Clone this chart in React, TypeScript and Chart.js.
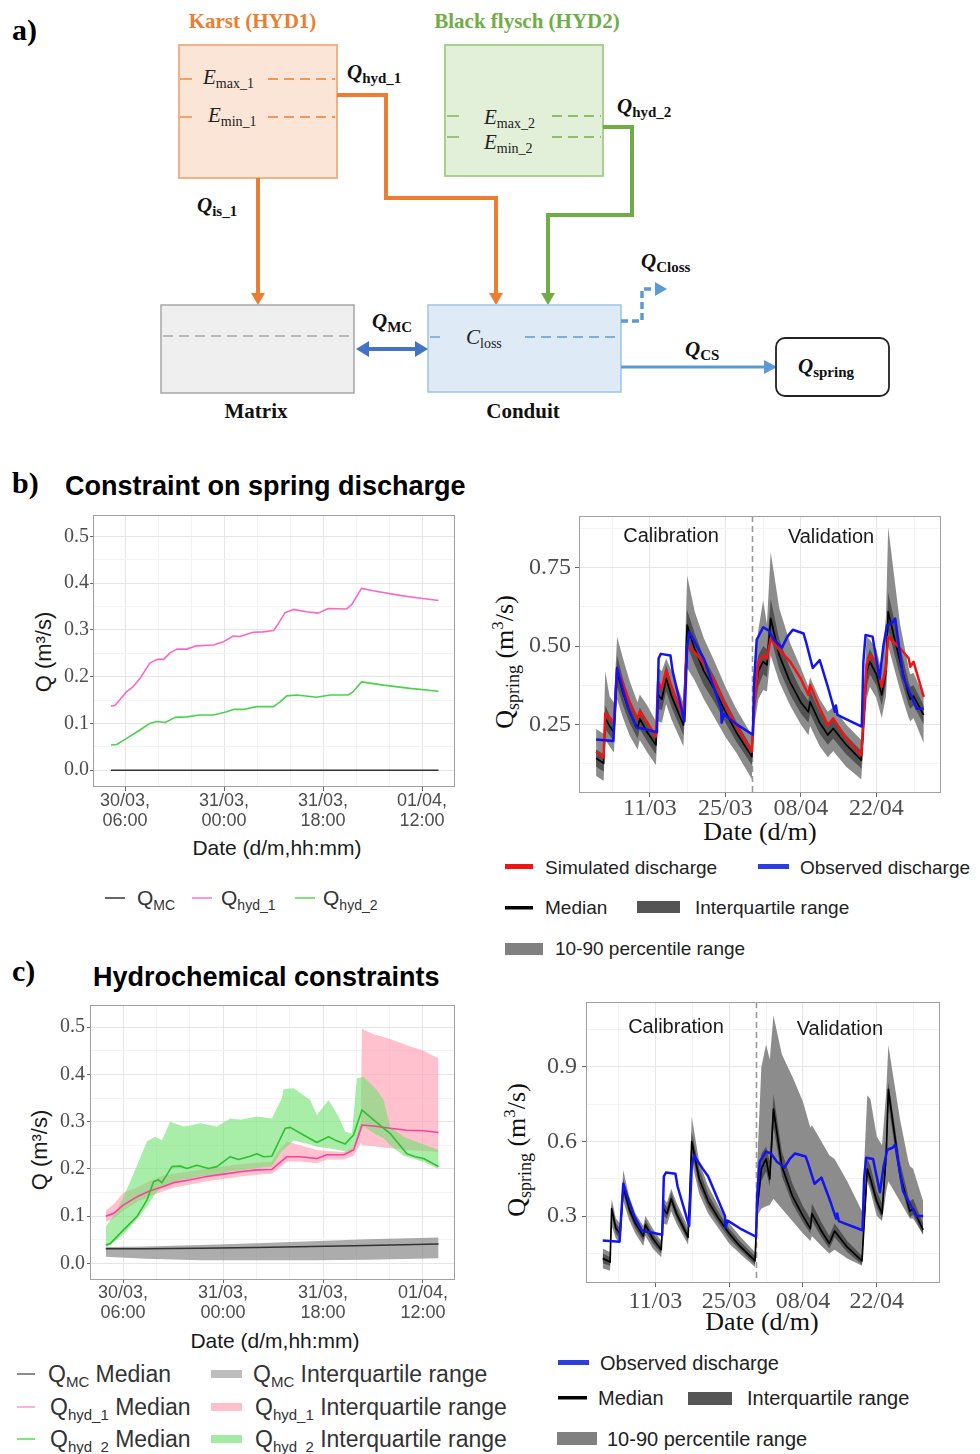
import React, { useEffect, useRef } from 'react';
import { Chart, registerables } from 'chart.js';

Chart.register(...registerables);

const SANS = '"Liberation Sans", Arial, sans-serif';
const SERIF = '"Liberation Serif", "Times New Roman", serif';

// ---------- b) left: component discharges (hours after 30/03 00:00) ----------
const hyd1Hours = [3.45, 4.2, 6.3, 7.5, 8.7, 10.5, 11.8, 13.0, 14.2, 15.4, 17.2, 19.0, 22.1, 23.9, 25.7, 26.9, 29.3, 31.1, 33.0, 33.9, 35.1, 36.6, 39.0, 41.1, 43.0, 46.3, 47.2, 49.0, 51.1, 56.0, 58.4, 63.0];
const hyd1Q = [0.137, 0.139, 0.168, 0.179, 0.196, 0.229, 0.237, 0.237, 0.251, 0.259, 0.259, 0.266, 0.268, 0.275, 0.287, 0.286, 0.295, 0.296, 0.299, 0.314, 0.337, 0.344, 0.339, 0.336, 0.346, 0.345, 0.354, 0.389, 0.384, 0.374, 0.370, 0.363];
const hyd2Hours = [3.45, 4.5, 6.3, 8.7, 10.5, 11.8, 13.3, 15.1, 17.2, 19.6, 22.1, 24.5, 25.7, 27.5, 29.9, 33.0, 34.2, 35.4, 37.2, 40.8, 43.3, 46.6, 47.5, 49.0, 53.0, 57.8, 63.0];
const hyd2Q = [0.054, 0.055, 0.068, 0.086, 0.100, 0.104, 0.102, 0.113, 0.114, 0.118, 0.118, 0.125, 0.130, 0.130, 0.136, 0.136, 0.146, 0.159, 0.161, 0.156, 0.161, 0.161, 0.168, 0.189, 0.182, 0.175, 0.169];
const mcHoursB = [3.45, 63.0];
const mcQB = [0, 0];

// ---------- c) left: medians and interquartile ranges ----------
const mcHours = [2.9, 10, 20, 30, 40, 50, 62.8];
const mcMed = [0.031, 0.031, 0.032, 0.034, 0.036, 0.038, 0.041];
const mcLow = [0.014, 0.010, 0.007, 0.007, 0.007, 0.008, 0.011];
const mcHigh = [0.035, 0.036, 0.039, 0.043, 0.047, 0.051, 0.055];

const h1Hours = [2.9, 4.3, 6.1, 8.5, 10.9, 13.0, 15.1, 18.1, 21.1, 24.1, 27.1, 30.1, 32.8, 33.7, 35.5, 37.9, 40.9, 42.7, 45.7, 47.5, 48.8, 49.0, 51.1, 54.1, 57.1, 60.1, 62.8];
const h1Med = [0.100, 0.106, 0.124, 0.141, 0.154, 0.162, 0.171, 0.177, 0.184, 0.189, 0.194, 0.198, 0.199, 0.208, 0.226, 0.226, 0.222, 0.230, 0.230, 0.240, 0.285, 0.293, 0.291, 0.286, 0.282, 0.281, 0.277];
const h1Low = [0.088, 0.095, 0.112, 0.130, 0.143, 0.152, 0.160, 0.167, 0.174, 0.179, 0.184, 0.188, 0.190, 0.198, 0.216, 0.216, 0.212, 0.220, 0.220, 0.228, 0.255, 0.250, 0.248, 0.244, 0.240, 0.238, 0.236];
const h1High = [0.112, 0.125, 0.150, 0.160, 0.175, 0.185, 0.190, 0.195, 0.200, 0.205, 0.210, 0.213, 0.215, 0.235, 0.258, 0.250, 0.240, 0.238, 0.236, 0.245, 0.300, 0.497, 0.485, 0.475, 0.462, 0.450, 0.434];

const h2Hours = [2.9, 3.7, 6.1, 8.5, 10.3, 11.5, 12.4, 13.0, 14.8, 16.3, 17.5, 19.3, 21.4, 22.9, 25.3, 26.8, 28.9, 30.1, 31.3, 32.8, 35.2, 36.1, 38.5, 40.9, 43.0, 44.2, 46.0, 47.5, 49.0, 51.1, 54.1, 57.1, 58.6, 60.1, 62.8];
const h2Med = [0.039, 0.042, 0.071, 0.099, 0.134, 0.173, 0.177, 0.171, 0.205, 0.206, 0.201, 0.208, 0.201, 0.205, 0.226, 0.220, 0.227, 0.232, 0.226, 0.227, 0.286, 0.288, 0.272, 0.256, 0.268, 0.261, 0.253, 0.272, 0.325, 0.304, 0.275, 0.232, 0.226, 0.222, 0.205];
const h2BandHours = [2.9, 4.8, 6.1, 7.9, 10.3, 11.8, 13.0, 14.5, 16.9, 18.1, 19.9, 22.9, 25.3, 27.1, 30.1, 32.8, 34.6, 34.9, 36.7, 39.7, 40.9, 43.0, 44.8, 46.0, 47.2, 48.1, 49.3, 51.7, 52.9, 54.1, 56.5, 60.1, 62.8];
const h2Low = [0.032, 0.049, 0.062, 0.085, 0.12, 0.148, 0.16, 0.17, 0.178, 0.18, 0.184, 0.188, 0.195, 0.197, 0.202, 0.205, 0.238, 0.24, 0.26, 0.252, 0.247, 0.244, 0.24, 0.237, 0.238, 0.26, 0.29, 0.272, 0.265, 0.25, 0.228, 0.215, 0.2];
const h2High = [0.078, 0.11, 0.141, 0.19, 0.258, 0.268, 0.261, 0.30, 0.29, 0.292, 0.297, 0.29, 0.307, 0.304, 0.311, 0.307, 0.35, 0.369, 0.371, 0.346, 0.314, 0.346, 0.311, 0.279, 0.275, 0.392, 0.395, 0.367, 0.346, 0.29, 0.268, 0.252, 0.24];

// ---------- spring discharge (days after 01/03) ----------
const modelDays = [0, 1.4, 1.7, 2.5, 3.3, 3.9, 5, 6.2, 7.7, 8.1, 9.5, 11.1, 11.5, 12.2, 13.0, 14.0, 16.2, 16.9, 18.3, 20, 22, 24, 26, 28.9, 29.3, 30.1, 31, 31.7, 32.4, 34, 36, 38, 39.4, 39.7, 41.5, 43, 44, 46.4, 49.2, 50.2, 50.8, 52, 53, 53.8, 54.2, 56.4, 58, 58.3, 58.9, 60.8];

// b) spring-discharge constraint
const simQ = [0.163, 0.144, 0.285, 0.272, 0.255, 0.43, 0.376, 0.322, 0.268, 0.292, 0.256, 0.211, 0.386, 0.365, 0.423, 0.37, 0.274, 0.503, 0.48, 0.445, 0.385, 0.315, 0.245, 0.163, 0.30, 0.45, 0.471, 0.46, 0.524, 0.488, 0.45, 0.395, 0.344, 0.376, 0.301, 0.248, 0.269, 0.205, 0.152, 0.44, 0.471, 0.45, 0.37, 0.429, 0.53, 0.493, 0.461, 0.434, 0.45, 0.338];
const medB = [0.142, 0.126, 0.27, 0.245, 0.225, 0.418, 0.35, 0.29, 0.237, 0.268, 0.225, 0.184, 0.344, 0.33, 0.397, 0.34, 0.248, 0.567, 0.49, 0.42, 0.36, 0.29, 0.225, 0.147, 0.32, 0.42, 0.45, 0.44, 0.588, 0.47, 0.385, 0.32, 0.29, 0.322, 0.255, 0.216, 0.237, 0.185, 0.136, 0.418, 0.45, 0.41, 0.344, 0.42, 0.61, 0.45, 0.344, 0.33, 0.34, 0.28];
const p25B = [0.115, 0.10, 0.235, 0.215, 0.195, 0.37, 0.31, 0.255, 0.205, 0.235, 0.195, 0.155, 0.30, 0.295, 0.355, 0.305, 0.215, 0.50, 0.44, 0.375, 0.32, 0.255, 0.195, 0.12, 0.28, 0.37, 0.41, 0.40, 0.53, 0.425, 0.345, 0.285, 0.255, 0.285, 0.22, 0.185, 0.205, 0.155, 0.11, 0.37, 0.41, 0.375, 0.31, 0.38, 0.55, 0.405, 0.31, 0.30, 0.31, 0.25];
const p75B = [0.17, 0.155, 0.31, 0.28, 0.26, 0.47, 0.395, 0.33, 0.27, 0.305, 0.26, 0.215, 0.385, 0.37, 0.44, 0.38, 0.28, 0.615, 0.54, 0.465, 0.40, 0.325, 0.26, 0.175, 0.37, 0.47, 0.50, 0.49, 0.65, 0.52, 0.43, 0.36, 0.325, 0.36, 0.29, 0.25, 0.27, 0.215, 0.165, 0.46, 0.49, 0.45, 0.38, 0.47, 0.67, 0.50, 0.385, 0.37, 0.375, 0.31];
const p10B = [0.085, 0.07, 0.20, 0.18, 0.16, 0.33, 0.27, 0.215, 0.17, 0.20, 0.16, 0.12, 0.26, 0.255, 0.315, 0.265, 0.18, 0.43, 0.39, 0.33, 0.27, 0.21, 0.16, 0.075, 0.24, 0.33, 0.36, 0.355, 0.47, 0.385, 0.31, 0.25, 0.215, 0.245, 0.18, 0.145, 0.165, 0.115, 0.075, 0.33, 0.37, 0.335, 0.27, 0.34, 0.50, 0.36, 0.27, 0.26, 0.27, 0.19];
const p90B = [0.235, 0.22, 0.42, 0.34, 0.32, 0.53, 0.46, 0.39, 0.32, 0.345, 0.31, 0.26, 0.43, 0.42, 0.46, 0.42, 0.32, 0.725, 0.61, 0.525, 0.45, 0.37, 0.30, 0.215, 0.42, 0.55, 0.645, 0.57, 0.80, 0.62, 0.51, 0.43, 0.37, 0.40, 0.33, 0.29, 0.305, 0.25, 0.20, 0.53, 0.52, 0.49, 0.42, 0.60, 0.88, 0.57, 0.43, 0.41, 0.415, 0.34];

// c) hydrochemical constraints
const medC = [0.13, 0.115, 0.33, 0.25, 0.23, 0.42, 0.33, 0.27, 0.22, 0.265, 0.21, 0.165, 0.33, 0.31, 0.37, 0.31, 0.215, 0.60, 0.45, 0.36, 0.29, 0.23, 0.18, 0.12, 0.33, 0.49, 0.53, 0.45, 0.73, 0.50, 0.38, 0.30, 0.25, 0.31, 0.24, 0.19, 0.24, 0.175, 0.12, 0.49, 0.45, 0.36, 0.31, 0.55, 0.81, 0.47, 0.34, 0.32, 0.33, 0.245];
const p25C = [0.11, 0.10, 0.30, 0.23, 0.21, 0.39, 0.31, 0.25, 0.20, 0.24, 0.19, 0.15, 0.30, 0.29, 0.345, 0.29, 0.20, 0.56, 0.42, 0.335, 0.27, 0.21, 0.165, 0.105, 0.31, 0.44, 0.48, 0.42, 0.66, 0.46, 0.35, 0.275, 0.23, 0.28, 0.215, 0.17, 0.215, 0.155, 0.105, 0.46, 0.42, 0.335, 0.29, 0.51, 0.75, 0.44, 0.315, 0.295, 0.305, 0.225];
const p75C = [0.15, 0.135, 0.35, 0.27, 0.25, 0.45, 0.355, 0.29, 0.24, 0.285, 0.23, 0.185, 0.355, 0.335, 0.395, 0.335, 0.235, 0.64, 0.49, 0.39, 0.315, 0.25, 0.20, 0.14, 0.38, 0.55, 0.58, 0.52, 0.79, 0.56, 0.43, 0.34, 0.29, 0.35, 0.275, 0.22, 0.27, 0.20, 0.14, 0.53, 0.50, 0.40, 0.35, 0.62, 0.84, 0.52, 0.38, 0.36, 0.37, 0.27];
const p10C = [0.09, 0.08, 0.26, 0.21, 0.19, 0.36, 0.285, 0.23, 0.18, 0.22, 0.17, 0.135, 0.27, 0.265, 0.32, 0.27, 0.185, 0.52, 0.39, 0.31, 0.25, 0.19, 0.15, 0.095, 0.30, 0.33, 0.34, 0.345, 0.37, 0.33, 0.28, 0.23, 0.20, 0.22, 0.18, 0.15, 0.165, 0.13, 0.10, 0.44, 0.40, 0.30, 0.28, 0.40, 0.44, 0.36, 0.30, 0.29, 0.29, 0.225];
const p90C = [0.17, 0.155, 0.37, 0.29, 0.27, 0.485, 0.38, 0.31, 0.26, 0.30, 0.25, 0.20, 0.37, 0.355, 0.41, 0.355, 0.255, 0.70, 0.52, 0.42, 0.34, 0.27, 0.22, 0.155, 0.50, 0.90, 0.99, 0.93, 1.107, 0.95, 0.86, 0.76, 0.655, 0.665, 0.60, 0.545, 0.53, 0.44, 0.32, 0.786, 0.77, 0.62, 0.585, 0.80, 0.987, 0.69, 0.52, 0.50, 0.49, 0.36];

// observed spring discharge
const obsDays = [0, 3.2, 3.5, 3.9, 5, 6, 7.5, 9, 11.3, 11.6, 12, 13.8, 14.2, 16.4, 16.9, 17.3, 19, 20, 21.8, 23.2, 23.3, 23.7, 26.1, 29.1, 29.3, 29.8, 31, 32, 33, 34.5, 35.5, 36.5, 38.5, 39, 40.2, 41.5, 43, 44.3, 44.5, 44.8, 46, 49.3, 49.6, 50, 51.3, 52.6, 53.3, 54, 55, 55.5, 57, 59.5, 60.8];
const obsQ = [0.202, 0.197, 0.30, 0.43, 0.36, 0.30, 0.24, 0.235, 0.225, 0.46, 0.475, 0.47, 0.42, 0.26, 0.50, 0.545, 0.49, 0.46, 0.37, 0.30, 0.255, 0.282, 0.25, 0.217, 0.38, 0.52, 0.56, 0.55, 0.52, 0.495, 0.53, 0.552, 0.54, 0.51, 0.43, 0.455, 0.37, 0.29, 0.31, 0.28, 0.27, 0.243, 0.45, 0.535, 0.53, 0.396, 0.50, 0.567, 0.575, 0.588, 0.40, 0.30, 0.30];

// ---------- ticks ----------
const hourGrid = [6, 12, 18, 24, 30, 36, 42, 48, 54, 60];
const hourTicks = [6, 24, 42, 60];
const hourTickLabels = [['30/03,', '06:00'], ['31/03,', '00:00'], ['31/03,', '18:00'], ['01/04,', '12:00']];
const qGrid = [0, 0.05, 0.1, 0.15, 0.2, 0.25, 0.3, 0.35, 0.4, 0.45, 0.5];
const qTicks = [0, 0.1, 0.2, 0.3, 0.4, 0.5];
const qTickLabels = ['0.0', '0.1', '0.2', '0.3', '0.4', '0.5'];
const dayGrid = [3, 10, 17, 24, 31, 38, 45, 52, 59];
const dayTicks = [10, 24, 38, 52];
const dayTickLabels = ['11/03', '25/03', '08/04', '22/04'];
const springGridB = [0.125, 0.25, 0.375, 0.5, 0.625, 0.75, 0.875];
const springTicksB = [0.25, 0.5, 0.75];
const springTickLabelsB = ['0.25', '0.50', '0.75'];
const springGridC = [0.15, 0.3, 0.45, 0.6, 0.75, 0.9, 1.05];
const springTicksC = [0.3, 0.6, 0.9];
const springTickLabelsC = ['0.3', '0.6', '0.9'];
const splitDay = 29;

// ---------- colours ----------
const ORANGE = '#ED7D31';
const GREEN = '#70AD47';
const LBLUE = '#5B9BD5';
const DBLUE = '#4472C4';
const GRID_MAJOR = '#E6E6E6';
const GRID_MINOR = '#F3F3F3';
const LIGHT_BAND = 'rgb(140,140,140)';
const DARK_BAND = 'rgb(82,82,82)';

const pts = (xs: number[], ys: number[]) => xs.map((x, i) => ({ x, y: ys[i] }));

function line(xs: number[], ys: number[], color: string, width: number, order: number) {
  return { data: pts(xs, ys), borderColor: color, borderWidth: width, pointRadius: 0, fill: false, order, tension: 0, borderJoinStyle: 'round' };
}

function band(xs: number[], lo: number[], hi: number[], color: string, order: number) {
  return [
    { data: pts(xs, lo), borderWidth: 0, borderColor: 'rgba(0,0,0,0)', pointRadius: 0, fill: false, order, tension: 0 },
    { data: pts(xs, hi), borderWidth: 0, borderColor: 'rgba(0,0,0,0)', backgroundColor: color, pointRadius: 0, fill: '-1', order: order - 1, tension: 0 },
  ];
}

interface AxisSpec {
  min: number; max: number; grid: number[]; majors: number[]; labels: any[];
  font: any; tickLen: number; pad: number;
}

const near = (a: number, b: number) => Math.abs(a - b) < 1e-6;

function axisOptions(a: AxisSpec, size: number, horizontal: boolean) {
  const isMajor = (v: number) => a.majors.some((m) => near(m, v));
  return {
    type: 'linear',
    min: a.min,
    max: a.max,
    bounds: 'data',
    afterBuildTicks: (axis: any) => { axis.ticks = a.grid.map((v) => ({ value: v })); },
    afterFit: (axis: any) => {
      if (horizontal) axis.height = size; else axis.width = size;
      // keep the plotting area exactly where it is placed
      axis.paddingTop = 0; axis.paddingBottom = 0; axis.paddingLeft = 0; axis.paddingRight = 0;
    },
    ticks: {
      autoSkip: false, maxRotation: 0, minRotation: 0, padding: a.pad,
      color: '#4D4D4D', font: a.font,
      callback: (v: number) => { const i = a.majors.findIndex((m) => near(m, v)); return i >= 0 ? a.labels[i] : ''; },
    },
    grid: {
      color: (ctx: any) => (ctx.tick && isMajor(ctx.tick.value) ? GRID_MAJOR : GRID_MINOR),
      tickColor: (ctx: any) => (ctx.tick && isMajor(ctx.tick.value) ? '#666' : 'rgba(0,0,0,0)'),
      tickLength: a.tickLen, lineWidth: 1, drawTicks: true,
    },
    border: { display: false },
  };
}

const panelBorder = {
  id: 'panelBorder',
  afterDatasetsDraw(chart: any) {
    const { ctx, chartArea: c } = chart;
    ctx.save();
    ctx.strokeStyle = '#A0A0A0';
    ctx.lineWidth = 1;
    ctx.strokeRect(Math.round(c.left) + 0.5, Math.round(c.top) + 0.5, Math.round(c.right - c.left) - 1, Math.round(c.bottom - c.top) - 1);
    ctx.restore();
  },
};

function phasePlugin(labels: { text: string; x: number; y: number }[]) {
  return {
    id: 'phases',
    beforeDatasetsDraw(chart: any) {
      const { ctx, chartArea: c, scales } = chart;
      const px = Math.round(scales.x.getPixelForValue(splitDay)) + 0.5;
      ctx.save();
      ctx.strokeStyle = '#9A9A9A'; ctx.lineWidth = 1.6; ctx.setLineDash([6, 4]);
      ctx.beginPath(); ctx.moveTo(px, c.top); ctx.lineTo(px, c.bottom); ctx.stroke();
      ctx.restore();
    },
    afterDatasetsDraw(chart: any) {
      const { ctx, scales } = chart;
      ctx.save();
      ctx.fillStyle = '#1A1A1A'; ctx.font = `20px ${SANS}`; ctx.textAlign = 'center'; ctx.textBaseline = 'alphabetic';
      labels.forEach((l) => ctx.fillText(l.text, scales.x.getPixelForValue(l.x), scales.y.getPixelForValue(l.y)));
      ctx.restore();
    },
  };
}

interface Geom { left: number; top: number; panelW: number; panelH: number; yAxisW: number; xAxisH: number; padTop: number; padRight: number; }

function makeConfig(datasets: any[], x: AxisSpec, y: AxisSpec, g: Geom, extra: any[] = []) {
  return {
    type: 'line',
    data: { datasets },
    options: {
      responsive: false, animation: false, devicePixelRatio: 1, events: [],
      layout: { padding: { top: g.padTop, right: g.padRight, left: 0, bottom: 0 }, autoPadding: false },
      plugins: { legend: { display: false }, tooltip: { enabled: false }, title: { display: false } },
      scales: { x: axisOptions(x, g.xAxisH, true), y: axisOptions(y, g.yAxisW, false) },
    },
    plugins: [panelBorder, ...extra],
  };
}

function ChartBox({ g, build }: { g: Geom; build: () => any }) {
  const ref = useRef<HTMLCanvasElement>(null);
  const w = g.yAxisW + g.panelW + g.padRight;
  const h = g.padTop + g.panelH + g.xAxisH;
  useEffect(() => {
    const chart = new Chart(ref.current as HTMLCanvasElement, build());
    return () => chart.destroy();
  }, []);
  return (
    <canvas ref={ref} width={w} height={h}
      style={{ position: 'absolute', left: g.left - g.yAxisW, top: g.top - g.padTop, width: w, height: h }} />
  );
}

// ---------- chart geometry ----------
const geomBL: Geom = { left: 93, top: 515, panelW: 362, panelH: 272, yAxisW: 50, xAxisH: 60, padTop: 6, padRight: 6 };
const geomBR: Geom = { left: 579, top: 516, panelW: 362, panelH: 277, yAxisW: 62, xAxisH: 40, padTop: 6, padRight: 6 };
const geomCL: Geom = { left: 90, top: 1005, panelW: 365, panelH: 275, yAxisW: 50, xAxisH: 55, padTop: 6, padRight: 6 };
const geomCR: Geom = { left: 586, top: 1002, panelW: 354, panelH: 281, yAxisW: 58, xAxisH: 40, padTop: 6, padRight: 6 };

const hourAxis = (min: number, max: number, tickLen: number, pad: number): AxisSpec => ({
  min, max, grid: hourGrid, majors: hourTicks, labels: hourTickLabels,
  font: { family: SANS, size: 18, lineHeight: 1.12 }, tickLen, pad,
});
const qAxis = (min: number, max: number, tickLen: number, pad: number): AxisSpec => ({
  min, max, grid: qGrid, majors: qTicks, labels: qTickLabels,
  font: { family: SERIF, size: 20 }, tickLen, pad,
});
const dayAxis = (pad: number): AxisSpec => ({
  min: -3.17, max: 64, grid: dayGrid, majors: dayTicks, labels: dayTickLabels,
  font: { family: SERIF, size: 24, lineHeight: 1 }, tickLen: 4, pad,
});

const buildBL = () => makeConfig(
  [
    line(mcHoursB, mcQB, '#333333', 1.5, 3),
    line(hyd1Hours, hyd1Q, '#FF66C4', 1.6, 2),
    line(hyd2Hours, hyd2Q, '#48D448', 1.6, 1),
  ],
  hourAxis(0.18, 66, 4, 0), qAxis(-0.036, 0.546, 3, 1), geomBL,
);

const buildBR = () => makeConfig(
  [
    ...band(modelDays, p10B, p90B, LIGHT_BAND, 9),
    ...band(modelDays, p25B, p75B, DARK_BAND, 7),
    line(modelDays, medB, '#000000', 1.7, 3),
    line(modelDays, simQ, '#F01515', 2.5, 2),
    line(obsDays, obsQ, '#1414F0', 2.5, 1),
  ],
  dayAxis(0),
  { min: 0.031, max: 0.915, grid: springGridB, majors: springTicksB, labels: springTickLabelsB, font: { family: SERIF, size: 24 }, tickLen: 4, pad: 4 },
  geomBR,
  [phasePlugin([{ text: 'Calibration', x: 13.9, y: 0.832 }, { text: 'Validation', x: 43.6, y: 0.829 }])],
);

const buildCL = () => makeConfig(
  [
    ...band(mcHours, mcLow, mcHigh, 'rgba(128,128,128,0.65)', 20),
    ...band(h1Hours, h1Low, h1High, 'rgba(255,160,180,0.65)', 18),
    ...band(h2BandHours, h2Low, h2High, 'rgba(110,225,110,0.6)', 16),
    line(mcHours, mcMed, '#333333', 1.5, 5),
    line(h1Hours, h1Med, '#FF3FA0', 1.6, 4),
    line(h2Hours, h2Med, '#2FBF2F', 1.6, 3),
  ],
  hourAxis(0.06, 65.76, 3, 0), qAxis(-0.035, 0.547, 3, 2), geomCL,
);

const buildCR = () => makeConfig(
  [
    ...band(modelDays, p10C, p90C, LIGHT_BAND, 9),
    ...band(modelDays, p25C, p75C, DARK_BAND, 7),
    line(modelDays, medC, '#000000', 1.7, 3),
    line(obsDays, obsQ, '#1414F0', 2.5, 1),
  ],
  dayAxis(3),
  { min: 0.031, max: 1.161, grid: springGridC, majors: springTicksC, labels: springTickLabelsC, font: { family: SERIF, size: 24 }, tickLen: 4, pad: 5 },
  geomCR,
  [phasePlugin([{ text: 'Calibration', x: 13.9, y: 1.037 }, { text: 'Validation', x: 45.0, y: 1.029 }])],
);

// ---------- static drawing: conceptual model, titles and legends ----------
function QLabel({ x, y, sub, size = 21 }: { x: number; y: number; sub: string; size?: number }) {
  return (
    <text x={x} y={y} fontFamily={SERIF} fontWeight="bold" fontSize={size} fill="#111">
      <tspan fontStyle="italic">Q</tspan>
      <tspan fontSize={Math.round(size * 0.7)} dy={size * 0.2}>{sub}</tspan>
    </text>
  );
}

function ELabel({ x, y, sub, sym = 'E' }: { x: number; y: number; sub: string; sym?: string }) {
  return (
    <text x={x} y={y} fontFamily={SERIF} fontSize={21} fill="#222">
      <tspan fontStyle="italic">{sym}</tspan>
      <tspan fontSize={14} dy={4}>{sub}</tspan>
    </text>
  );
}

function SansQ({ x, y, sub, rest = '', size, subSize, fill = '#333' }: any) {
  return (
    <text x={x} y={y} fontFamily={SANS} fontSize={size} fill={fill} style={{ whiteSpace: 'pre' }}>
      Q<tspan fontSize={subSize} dy={size * 0.22}>{sub}</tspan>
      {rest ? <tspan dy={-size * 0.22}>{rest}</tspan> : null}
    </text>
  );
}

const arrowDown = (x: number, tip: number) => `${x - 7},${tip - 12} ${x + 7},${tip - 12} ${x},${tip}`;

function Diagram() {
  return (
    <g>
      <text x={12} y={40} fontFamily={SERIF} fontWeight="bold" fontSize={30} fill="#000">a)</text>
      <text x={252.5} y={28} textAnchor="middle" fontFamily={SERIF} fontWeight="bold" fontSize={21} fill={ORANGE}>Karst (HYD1)</text>
      <text x={527} y={28} textAnchor="middle" fontFamily={SERIF} fontWeight="bold" fontSize={21} fill={GREEN}>Black flysch (HYD2)</text>

      <rect x={179} y={45} width={158} height={133} fill="#FBE5D6" stroke="#F4B183" strokeWidth={2} />
      <line x1={180} y1={79} x2={192} y2={79} stroke={ORANGE} strokeWidth={1.3} />
      <line x1={268} y1={79} x2={335} y2={79} stroke={ORANGE} strokeWidth={1.3} strokeDasharray="10 6" />
      <line x1={180} y1={117} x2={192} y2={117} stroke={ORANGE} strokeWidth={1.3} />
      <line x1={268} y1={117} x2={335} y2={117} stroke={ORANGE} strokeWidth={1.3} strokeDasharray="10 6" />
      <ELabel x={203} y={84} sub="max_1" />
      <ELabel x={208} y={122} sub="min_1" />

      <rect x={445} y={45} width={158} height={131} fill="#E2F0D9" stroke="#A9D18E" strokeWidth={2} />
      <line x1={447} y1={116} x2={459} y2={116} stroke={GREEN} strokeWidth={1.3} />
      <line x1={552} y1={116} x2={601} y2={116} stroke={GREEN} strokeWidth={1.3} strokeDasharray="10 6" />
      <line x1={447} y1={137} x2={459} y2={137} stroke={GREEN} strokeWidth={1.3} />
      <line x1={552} y1={137} x2={601} y2={137} stroke={GREEN} strokeWidth={1.3} strokeDasharray="10 6" />
      <ELabel x={484} y={124} sub="max_2" />
      <ELabel x={484} y={149} sub="min_2" />

      <polyline points="337,95 386,95 386,198 496,198 496,294" fill="none" stroke={ORANGE} strokeWidth={4} />
      <polygon points={arrowDown(496, 305)} fill={ORANGE} />
      <line x1={258} y1={178} x2={258} y2={294} stroke={ORANGE} strokeWidth={4} />
      <polygon points={arrowDown(258, 305)} fill={ORANGE} />
      <polyline points="603,127 632,127 632,215 548,215 548,294" fill="none" stroke={GREEN} strokeWidth={4} />
      <polygon points={arrowDown(548, 305)} fill={GREEN} />

      <QLabel x={347} y={79} sub="hyd_1" />
      <QLabel x={197} y={212} sub="is_1" />
      <QLabel x={617} y={113} sub="hyd_2" />
      <QLabel x={641} y={268} sub="Closs" />
      <QLabel x={372} y={328} sub="MC" />
      <QLabel x={685} y={356} sub="CS" />

      <rect x={161} y={305} width={193} height={88} fill="#EFEFEF" stroke="#A6A6A6" strokeWidth={1.5} />
      <line x1={163} y1={336} x2={352} y2={336} stroke="#A6A6A6" strokeWidth={1.3} strokeDasharray="10 6" />
      <rect x={428} y={305} width={193} height={87} fill="#DEEBF7" stroke="#9DC3E6" strokeWidth={1.5} />
      <line x1={430} y1={337} x2={440} y2={337} stroke={LBLUE} strokeWidth={1.3} />
      <line x1={525} y1={337} x2={619} y2={337} stroke={LBLUE} strokeWidth={1.3} strokeDasharray="10 6" />
      <ELabel x={466} y={344} sub="loss" sym="C" />

      <line x1={366} y1={349} x2={418} y2={349} stroke={DBLUE} strokeWidth={4} />
      <polygon points="356,349 369,341 369,357" fill={DBLUE} />
      <polygon points="428,349 415,341 415,357" fill={DBLUE} />

      <polyline points="621,321 642,321 642,289 656,289" fill="none" stroke={LBLUE} strokeWidth={3.5} strokeDasharray="7 4" />
      <polygon points="655,282 655,296 667,289" fill={LBLUE} />
      <line x1={621} y1={367} x2={766} y2={367} stroke={LBLUE} strokeWidth={3} />
      <polygon points="764,360 764,374 777,367" fill={LBLUE} />

      <rect x={776} y={338} width={113} height={58} rx={9} fill="#FFFFFF" stroke="#222" strokeWidth={1.8} />
      <QLabel x={798} y={373} sub="spring" />

      <text x={256} y={418} textAnchor="middle" fontFamily={SERIF} fontWeight="bold" fontSize={21} fill="#111">Matrix</text>
      <text x={523} y={418} textAnchor="middle" fontFamily={SERIF} fontWeight="bold" fontSize={21} fill="#111">Conduit</text>
    </g>
  );
}

function Labels() {
  return (
    <g>
      {/* section headers */}
      <text x={12} y={493} fontFamily={SERIF} fontWeight="bold" fontSize={30} fill="#000">b)</text>
      <text x={65} y={495} fontFamily={SANS} fontWeight="bold" fontSize={27} fill="#000">Constraint on spring discharge</text>
      <text x={12} y={981} fontFamily={SERIF} fontWeight="bold" fontSize={30} fill="#000">c)</text>
      <text x={93} y={986} fontFamily={SANS} fontWeight="bold" fontSize={27} fill="#000">Hydrochemical constraints</text>

      {/* axis titles */}
      <text x={277} y={855} textAnchor="middle" fontFamily={SANS} fontSize={21} fill="#1A1A1A">Date (d/m,hh:mm)</text>
      <text transform="translate(51,652) rotate(-90)" textAnchor="middle" fontFamily={SANS} fontSize={22} fill="#1A1A1A">Q (m³/s)</text>
      <text x={275} y={1348} textAnchor="middle" fontFamily={SANS} fontSize={21} fill="#1A1A1A">Date (d/m,hh:mm)</text>
      <text transform="translate(47,1150) rotate(-90)" textAnchor="middle" fontFamily={SANS} fontSize={22} fill="#1A1A1A">Q (m³/s)</text>

      <text x={760} y={840} textAnchor="middle" fontFamily={SERIF} fontSize={26} fill="#111">Date (d/m)</text>
      <text transform="translate(513,662) rotate(-90)" textAnchor="middle" fontFamily={SERIF} fontSize={26} fill="#111" style={{ whiteSpace: 'pre' }}>
        Q<tspan fontSize={18} dy={6}>spring</tspan><tspan dy={-6}> (m</tspan><tspan fontSize={17} dy={-10}>3</tspan><tspan dy={10}>/s)</tspan>
      </text>
      <text x={762} y={1330} textAnchor="middle" fontFamily={SERIF} fontSize={26} fill="#111">Date (d/m)</text>
      <text transform="translate(525,1150) rotate(-90)" textAnchor="middle" fontFamily={SERIF} fontSize={26} fill="#111" style={{ whiteSpace: 'pre' }}>
        Q<tspan fontSize={18} dy={6}>spring</tspan><tspan dy={-6}> (m</tspan><tspan fontSize={17} dy={-10}>3</tspan><tspan dy={10}>/s)</tspan>
      </text>

      {/* legend b) left */}
      <line x1={105} y1={898} x2={125} y2={898} stroke="#333" strokeWidth={1.5} />
      <SansQ x={137} y={905} sub="MC" size={21} subSize={14} />
      <line x1={192} y1={898} x2={212} y2={898} stroke="#FF77C8" strokeWidth={1.5} />
      <SansQ x={221} y={905} sub="hyd_1" size={21} subSize={14} />
      <line x1={295} y1={898} x2={315} y2={898} stroke="#55D855" strokeWidth={1.5} />
      <SansQ x={323} y={905} sub="hyd_2" size={21} subSize={14} />

      {/* legend b) right */}
      <rect x={505} y={864} width={28} height={5} fill="#F01515" />
      <text x={545} y={874} fontFamily={SANS} fontSize={19} fill="#222">Simulated discharge</text>
      <rect x={758} y={864} width={31} height={5} fill="#2B3FE0" />
      <text x={800} y={874} fontFamily={SANS} fontSize={19} fill="#222">Observed discharge</text>
      <rect x={505} y={906} width={28} height={3.5} fill="#000" />
      <text x={545} y={914} fontFamily={SANS} fontSize={19} fill="#222">Median</text>
      <rect x={637} y={901} width={43} height={12} fill="#555555" />
      <text x={695} y={914} fontFamily={SANS} fontSize={19} fill="#222">Interquartile range</text>
      <rect x={505} y={943} width={38} height={12} fill="#808080" />
      <text x={555} y={955} fontFamily={SANS} fontSize={19} fill="#222">10-90 percentile range</text>

      {/* legend c) left */}
      <line x1={17} y1={1374} x2={35} y2={1374} stroke="#666" strokeWidth={1.5} />
      <SansQ x={48} y={1382} sub="MC" rest=" Median" size={23} subSize={15} />
      <rect x={211} y={1370} width={31} height={8} fill="#BEBEBE" />
      <SansQ x={253} y={1382} sub="MC" rest=" Interquartile range" size={23} subSize={15} />
      <line x1={17} y1={1407} x2={35} y2={1407} stroke="#FF99CC" strokeWidth={1.5} />
      <SansQ x={50} y={1415} sub="hyd_1" rest=" Median" size={23} subSize={15} />
      <rect x={211} y={1403} width={31} height={8} fill="#FFC0CB" />
      <SansQ x={255} y={1415} sub="hyd_1" rest=" Interquartile range" size={23} subSize={15} />
      <line x1={17} y1={1439} x2={35} y2={1439} stroke="#5ED65E" strokeWidth={1.5} />
      <SansQ x={50} y={1447} sub="hyd_2" rest=" Median" size={23} subSize={15} />
      <rect x={211} y={1435} width={31} height={8} fill="#A3EBA3" />
      <SansQ x={255} y={1447} sub="hyd_2" rest=" Interquartile range" size={23} subSize={15} />

      {/* legend c) right */}
      <rect x={558} y={1360} width={31} height={5} fill="#2B3FE0" />
      <text x={600} y={1370} fontFamily={SANS} fontSize={20} fill="#222">Observed discharge</text>
      <rect x={558} y={1396} width={29} height={3.5} fill="#000" />
      <text x={598} y={1405} fontFamily={SANS} fontSize={20} fill="#222">Median</text>
      <rect x={688} y={1392} width={44} height={13} fill="#555555" />
      <text x={747} y={1405} fontFamily={SANS} fontSize={20} fill="#222">Interquartile range</text>
      <rect x={557} y={1432} width={40} height={13} fill="#808080" />
      <text x={607} y={1446} fontFamily={SANS} fontSize={20} fill="#222">10-90 percentile range</text>
    </g>
  );
}

export default function App() {
  return (
    <div style={{ position: 'absolute', left: 0, top: 0, width: 980, height: 1454, background: '#FFFFFF', overflow: 'hidden' }}>
      <svg width={980} height={1454} style={{ position: 'absolute', left: 0, top: 0 }}>
        <Diagram />
        <Labels />
      </svg>
      <ChartBox g={geomBL} build={buildBL} />
      <ChartBox g={geomBR} build={buildBR} />
      <ChartBox g={geomCL} build={buildCL} />
      <ChartBox g={geomCR} build={buildCR} />
    </div>
  );
}
